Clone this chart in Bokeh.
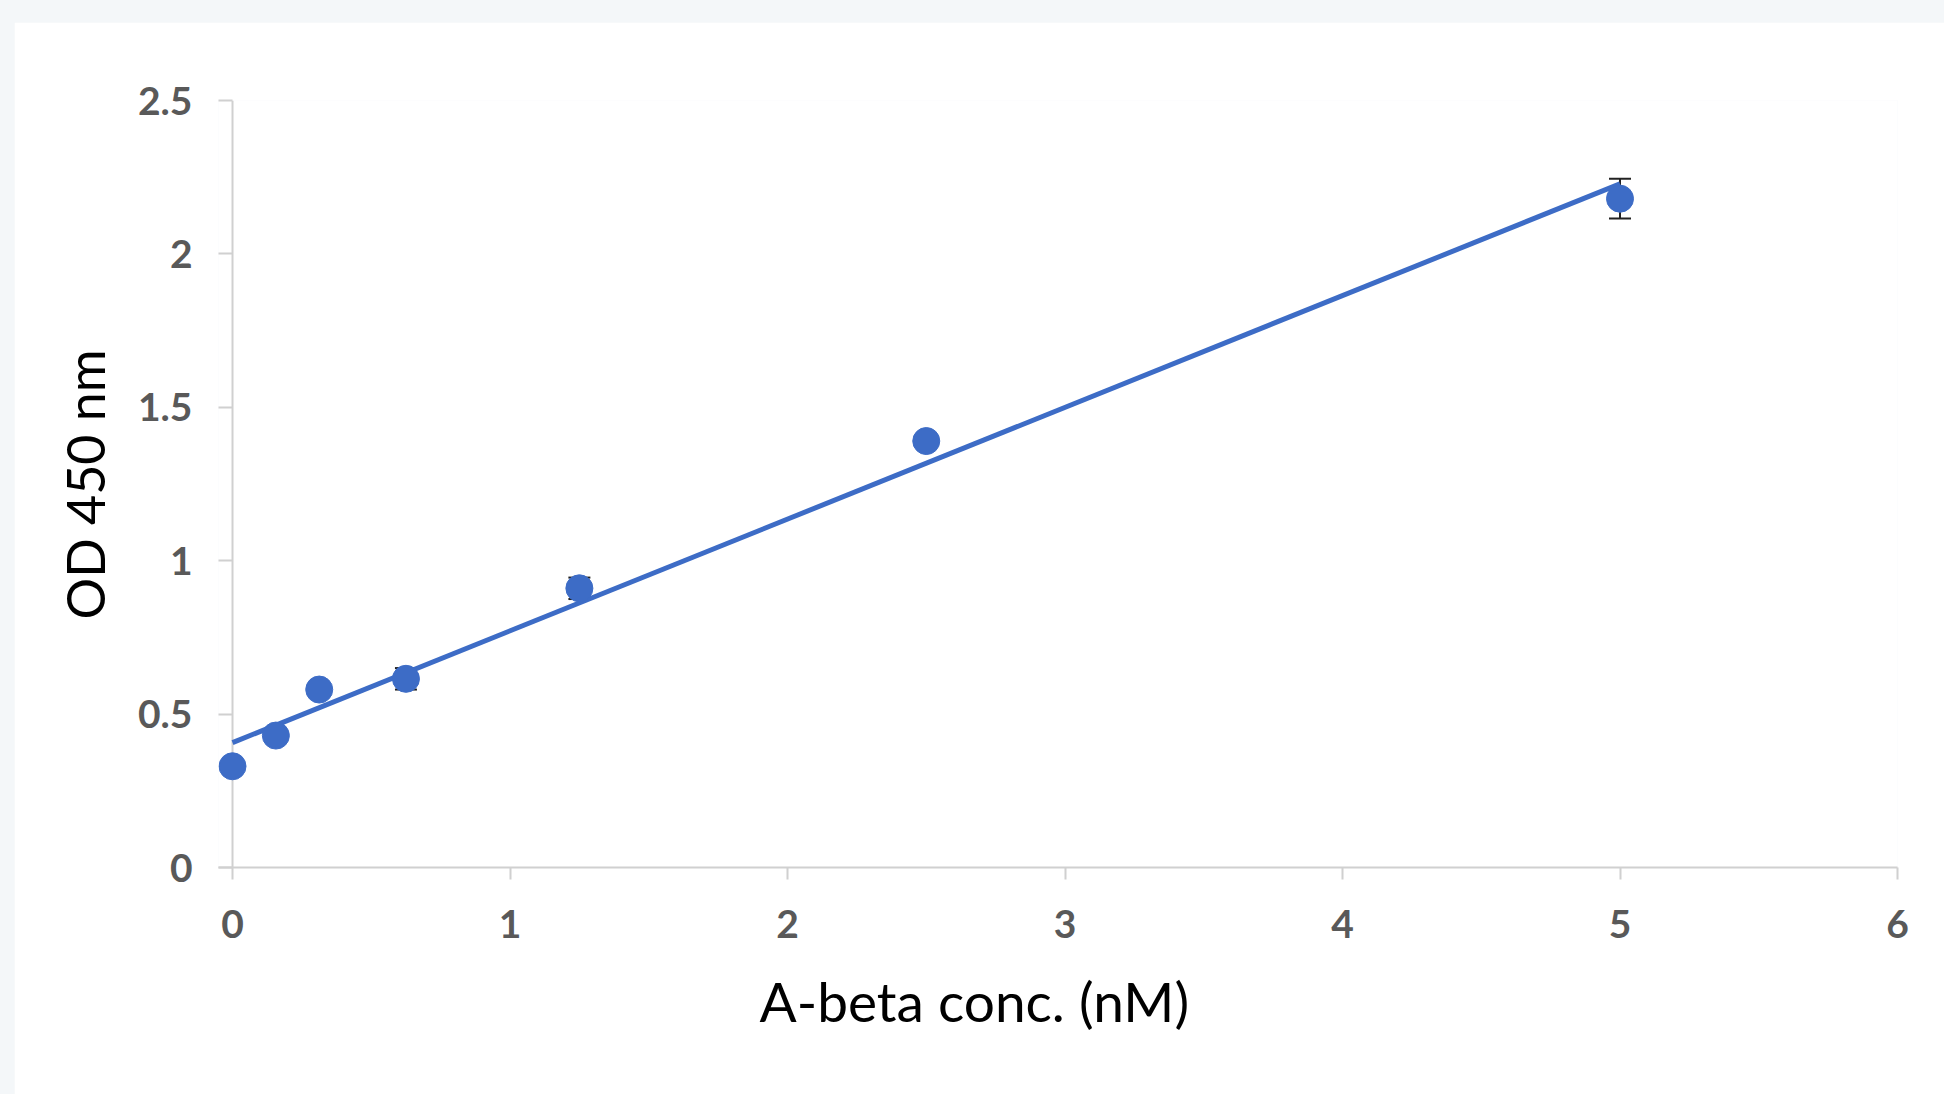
import numpy as np
from bokeh.plotting import figure
from bokeh.models import ColumnDataSource, Whisker, TeeHead, Title, Range1d, FixedTicker, Span
from bokeh.layouts import column
from bokeh.embed import file_html
from bokeh.resources import INLINE

# ---- data ----
conc = [0, 0.15625, 0.3125, 0.625, 1.25, 2.5, 5]
od = [0.33, 0.43, 0.58, 0.615, 0.91, 1.39, 2.18]
od_err = [0.01, 0.01, 0.01, 0.035, 0.035, 0.01, 0.065]
x_ticks = [0, 1, 2, 3, 4, 5, 6]
y_ticks = [0, 0.5, 1, 1.5, 2, 2.5]
y_tick_labels = ["0", "0.5", "1", "1.5", "2", "2.5"]
x_title = "A-beta conc. (nM)"
y_title = "OD 450 nm"

BLUE = "#3D6CC6"
AXIS_GREY = "#D0D0D0"
FONT = "Lato"

src = ColumnDataSource(dict(
    x=conc, y=od,
    upper=[a + b for a, b in zip(od, od_err)],
    lower=[a - b for a, b in zip(od, od_err)],
))

slope, intercept = np.polyfit(conc, od, 1)
fit_x = [min(conc), max(conc)]
fit_y = [intercept + slope * v for v in fit_x]

p = figure(width=1930, height=1072, output_backend="svg", toolbar_location=None,
           x_range=Range1d(-0.0505, 6), y_range=Range1d(0, 2.5),
           min_border_left=204, min_border_right=47, min_border_top=78, min_border_bottom=227)
p.background_fill_color = "white"
p.border_fill_color = "white"
p.outline_line_color = None
p.grid.visible = False

for ax in (p.xaxis[0], p.yaxis[0]):
    ax.axis_line_color = AXIS_GREY
    ax.axis_line_width = 2
    ax.major_tick_line_color = AXIS_GREY
    ax.major_tick_line_width = 2
    ax.minor_tick_line_color = None
    ax.major_label_text_font = FONT
    ax.major_label_text_font_size = "39px"
    ax.major_label_text_font_style = "bold"
    ax.major_label_text_color = "#595959"

p.xaxis.major_tick_out = 12
p.xaxis.major_tick_in = 0
# y axis: the frame edge sits just left of x=0, ticks point inward to the x=0 line
p.yaxis.axis_line_color = None
p.yaxis.major_tick_out = 0
p.yaxis.major_tick_in = 14
p.add_layout(Span(location=0, dimension="height", line_color=AXIS_GREY, line_width=2, level="underlay"))

p.xaxis.ticker = FixedTicker(ticks=x_ticks)
p.yaxis.ticker = FixedTicker(ticks=y_ticks)
p.yaxis.major_label_overrides = {t: s for t, s in zip(y_ticks, y_tick_labels)}
p.xaxis.major_label_standoff = 30
p.yaxis.major_label_standoff = 26

p.line(fit_x, fit_y, line_color=BLUE, line_width=5)

wh = Whisker(source=src, base="x", upper="upper", lower="lower", dimension="height",
             line_color="#222222", line_width=2, level="underlay",
             upper_head=TeeHead(size=22, line_color="#222222", line_width=2),
             lower_head=TeeHead(size=22, line_color="#222222", line_width=2))
p.add_layout(wh)

p.scatter("x", "y", source=src, size=27, fill_color=BLUE, line_color=BLUE)

xt = Title(text=x_title, align="left", offset=541, standoff=50,
           text_font=FONT, text_font_size="55px", text_font_style="normal", text_color="black")
p.add_layout(xt, "below")
yt = Title(text=y_title, align="left", offset=248, standoff=38,
           text_font=FONT, text_font_size="52px", text_font_style="normal", text_color="black")
p.add_layout(yt, "left")

layout = column(p, styles={"background-color": "#F4F7F9", "padding": "22px 0 0 14px"})

open("out.html", "w").write(file_html(layout, INLINE))
